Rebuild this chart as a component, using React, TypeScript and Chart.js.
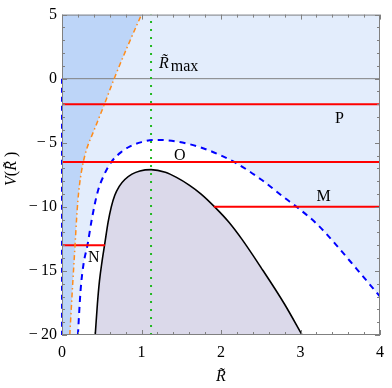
import React, { useEffect, useRef } from "react";
import { Chart, registerables } from "chart.js";
Chart.register(...registerables);

// Solid black potential curve (R, V)
const blackR = [0.418, 0.445, 0.471, 0.505, 0.54, 0.58, 0.62, 0.664, 0.72, 0.79, 0.88, 0.98, 1.12, 1.30, 1.44, 1.60, 1.75, 1.92, 2.10, 2.26, 2.50, 2.80, 3.02];
const blackV = [-20, -17.6, -15.8, -14.2, -12.8, -11.2, -10.0, -9.1, -8.4, -7.87, -7.45, -7.2, -7.1, -7.3, -7.7, -8.3, -9.0, -10.0, -11.2, -12.5, -14.7, -17.6, -20];

// Blue dashed curve
const dashedR = [0.20, 0.234, 0.27, 0.32, 0.377, 0.45, 0.53, 0.62, 0.75, 0.85, 1.0, 1.15, 1.3, 1.57, 1.85, 2.18, 2.5, 2.80, 2.95, 3.2, 3.41, 3.7, 4.0];
const dashedV = [-20, -16.5, -14.5, -13.0, -10.9, -8.8, -7.5, -6.5, -5.7, -5.3, -4.95, -4.78, -4.8, -5.06, -5.6, -6.55, -7.85, -9.3, -10.0, -11.3, -12.7, -14.8, -17.0];

// Orange dot-dashed curve
const orangeR = [0.098, 0.130, 0.164, 0.183, 0.200, 0.222, 0.246, 0.268, 0.310, 0.405, 0.533, 0.656, 0.83, 1.0];
const orangeV = [-20, -16.5, -13, -11, -9.5, -8.2, -7.2, -6.5, -5.5, -4, -2, 0, 2.6, 5.0];

// Red energy levels
const redLevels = [-2, -6.5, -10, -13];
const redFrom = [0, 0, 1.91, 0];
const redTo = [4, 4, 4, 0.54];

const rMax = 1.12;
const zeroLevel = 0;

const labelText = ["P", "O", "M", "N"];
const labelR = [3.49, 1.48, 3.29, 0.40];
const labelV = [-3.1, -6.0, -9.2, -14.0];
const rMaxLabelR = 1.22;
const rMaxLabelV = 0.87;

const xTicks = [0, 1, 2, 3, 4];
const yTicks = [-20, -15, -10, -5, 0, 5];
const xMin = 0, xMax = 4, yMin = -20, yMax = 5;

const LIGHT = "#e3edfc";
const MEDIUM = "#bdd5f8";
const LAVENDER = "#dbd9ea";
const SERIF = "'Liberation Serif', 'Times New Roman', serif";

const fmt = (v: number) => (v < 0 ? "\u2212\u2009" + Math.abs(v) : String(v));

export default function App() {
  const ref = useRef<HTMLCanvasElement>(null);
  useEffect(() => {
    const pts = (xs: number[], ys: number[]) => xs.map((x, i) => ({ x, y: ys[i] }));
    const base = { pointRadius: 0, pointHoverRadius: 0, fill: false as any };
    const datasets: any[] = [
      {
        ...base,
        data: [{ x: xMin, y: yMin }, ...pts(orangeR, orangeV)],
        borderWidth: 0,
        borderColor: "rgba(0,0,0,0)",
        backgroundColor: MEDIUM,
        fill: "end",
        cubicInterpolationMode: "monotone",
        order: 20,
      },
      {
        ...base,
        data: pts(dashedR, dashedV),
        borderColor: "#0000ff",
        borderWidth: 2,
        borderDash: [6, 5],
        backgroundColor: "#ffffff",
        fill: "start",
        cubicInterpolationMode: "monotone",
        order: 19,
      },
      {
        ...base,
        data: pts(blackR, blackV),
        borderColor: "#000000",
        borderWidth: 1.6,
        backgroundColor: LAVENDER,
        fill: "start",
        cubicInterpolationMode: "monotone",
        order: 18,
      },
      {
        ...base,
        data: [{ x: xMin, y: zeroLevel }, { x: xMax, y: zeroLevel }],
        borderColor: "#808080",
        borderWidth: 1,
        order: 17,
      },
      ...redLevels.map((lv, i) => ({
        ...base,
        data: [{ x: redFrom[i], y: lv }, { x: redTo[i], y: lv }],
        borderColor: "#ff0000",
        borderWidth: 2,
        order: 16,
      })),
      {
        ...base,
        data: [{ x: rMax, y: yMin }, { x: rMax, y: yMax }],
        borderColor: "#22b822",
        borderWidth: 2,
        borderDash: [2, 6],
        order: 15,
      },
      {
        ...base,
        data: pts(orangeR, orangeV),
        borderColor: "#ff8c1a",
        borderWidth: 1.5,
        borderDash: [5, 3, 1.5, 3],
        cubicInterpolationMode: "monotone",
        order: 14,
      },
      {
        ...base,
        data: [{ x: xMin, y: zeroLevel }, { x: xMin, y: yMin }],
        borderColor: "#0000ff",
        borderWidth: 2,
        borderDash: [5, 4],
        clip: 3,
        order: 13,
      },
    ];

    const deco = {
      id: "deco",
      beforeDatasetsDraw(chart: any) {
        const { ctx, chartArea: a } = chart;
        ctx.save();
        ctx.fillStyle = LIGHT;
        ctx.fillRect(a.left, a.top, a.right - a.left, a.bottom - a.top);
        ctx.restore();
      },
      afterDatasetsDraw(chart: any) {
        const { ctx, chartArea: a, scales } = chart;
        const xs = scales.x, ys = scales.y;
        ctx.save();
        // frame
        ctx.strokeStyle = "#808080";
        ctx.lineWidth = 1;
        ctx.strokeRect(a.left + 0.5, a.top + 0.5, a.right - a.left - 1, a.bottom - a.top - 1);
        // ticks inward
        ctx.beginPath();
        for (let i = 0; i <= 20; i++) {
          const v = xMin + i * 0.2;
          const len = i % 5 === 0 ? 5 : 3;
          const px = Math.round(xs.getPixelForValue(v)) + 0.5;
          ctx.moveTo(px, a.bottom);
          ctx.lineTo(px, a.bottom - len);
          ctx.moveTo(px, a.top);
          ctx.lineTo(px, a.top + len);
        }
        for (let v = yMin; v <= yMax; v++) {
          const len = v % 5 === 0 ? 5 : 3;
          const py = Math.round(ys.getPixelForValue(v)) + 0.5;
          ctx.moveTo(a.left, py);
          ctx.lineTo(a.left + len, py);
          ctx.moveTo(a.right, py);
          ctx.lineTo(a.right - len, py);
        }
        ctx.stroke();

        // point labels
        ctx.fillStyle = "#000";
        ctx.textAlign = "center";
        ctx.textBaseline = "middle";
        ctx.font = `16px ${SERIF}`;
        labelText.forEach((t, i) => {
          ctx.fillText(t, xs.getPixelForValue(labelR[i]), ys.getPixelForValue(labelV[i]));
        });

        // R~ max label
        const lx = xs.getPixelForValue(rMaxLabelR);
        const ly = ys.getPixelForValue(rMaxLabelV);
        ctx.textAlign = "left";
        ctx.textBaseline = "alphabetic";
        ctx.font = `italic 16px ${SERIF}`;
        ctx.fillText("R\u0303", lx, ly);
        const w = ctx.measureText("R").width;
        ctx.font = `16px ${SERIF}`;
        ctx.fillText("max", lx + w + 2, ly + 3);

        // axis titles
        ctx.font = `italic 16px ${SERIF}`;
        ctx.textAlign = "center";
        ctx.textBaseline = "middle";
        ctx.fillText("R\u0303", (a.left + a.right) / 2, a.bottom + 42);

        ctx.translate(a.left - 50, (a.top + a.bottom) / 2 - 6);
        ctx.rotate(-Math.PI / 2);
        const parts = [
          { t: "V", f: `italic 16px ${SERIF}` },
          { t: "(", f: `16px ${SERIF}` },
          { t: "R\u0303", f: `italic 16px ${SERIF}` },
          { t: " )", f: `16px ${SERIF}` },
        ];
        let total = 0;
        parts.forEach((p) => { ctx.font = p.f; total += ctx.measureText(p.t).width; });
        let cx = -total / 2;
        ctx.textAlign = "left";
        parts.forEach((p) => { ctx.font = p.f; ctx.fillText(p.t, cx, 0); cx += ctx.measureText(p.t).width; });
        ctx.restore();
      },
    };

    const chart = new Chart(ref.current!, {
      type: "line",
      data: { datasets },
      options: {
        animation: false,
        responsive: false,
        events: [],
        layout: { padding: { top: 9, right: 4, left: 0, bottom: 0 } },
        plugins: { legend: { display: false }, tooltip: { enabled: false } },
        scales: {
          x: {
            type: "linear",
            min: xMin,
            max: xMax,
            afterBuildTicks: (s: any) => { s.ticks = xTicks.map((v) => ({ value: v })); },
            afterFit: (s: any) => { s.height = 53; },
            grid: { display: false, drawTicks: false },
            border: { display: false },
            ticks: {
              autoSkip: false,
              maxRotation: 0,
              padding: 8,
              color: "#000",
              font: { family: SERIF, size: 16 },
              callback: (v: any) => fmt(Number(v)),
            },
          },
          y: {
            type: "linear",
            min: yMin,
            max: yMax,
            afterBuildTicks: (s: any) => { s.ticks = yTicks.map((v) => ({ value: v })); },
            afterFit: (s: any) => { s.width = 62; },
            grid: { display: false, drawTicks: false },
            border: { display: false },
            ticks: {
              autoSkip: false,
              padding: 5,
              color: "#000",
              font: { family: SERIF, size: 16 },
              callback: (v: any) => fmt(Number(v)),
            },
          },
        },
      },
      plugins: [deco],
    } as any);
    return () => chart.destroy();
  }, []);

  return (
    <div style={{ position: "fixed", left: 0, top: 0, width: 392, height: 388, background: "#fff" }}>
      <canvas ref={ref} width={392} height={388} style={{ display: "block" }} />
    </div>
  );
}
